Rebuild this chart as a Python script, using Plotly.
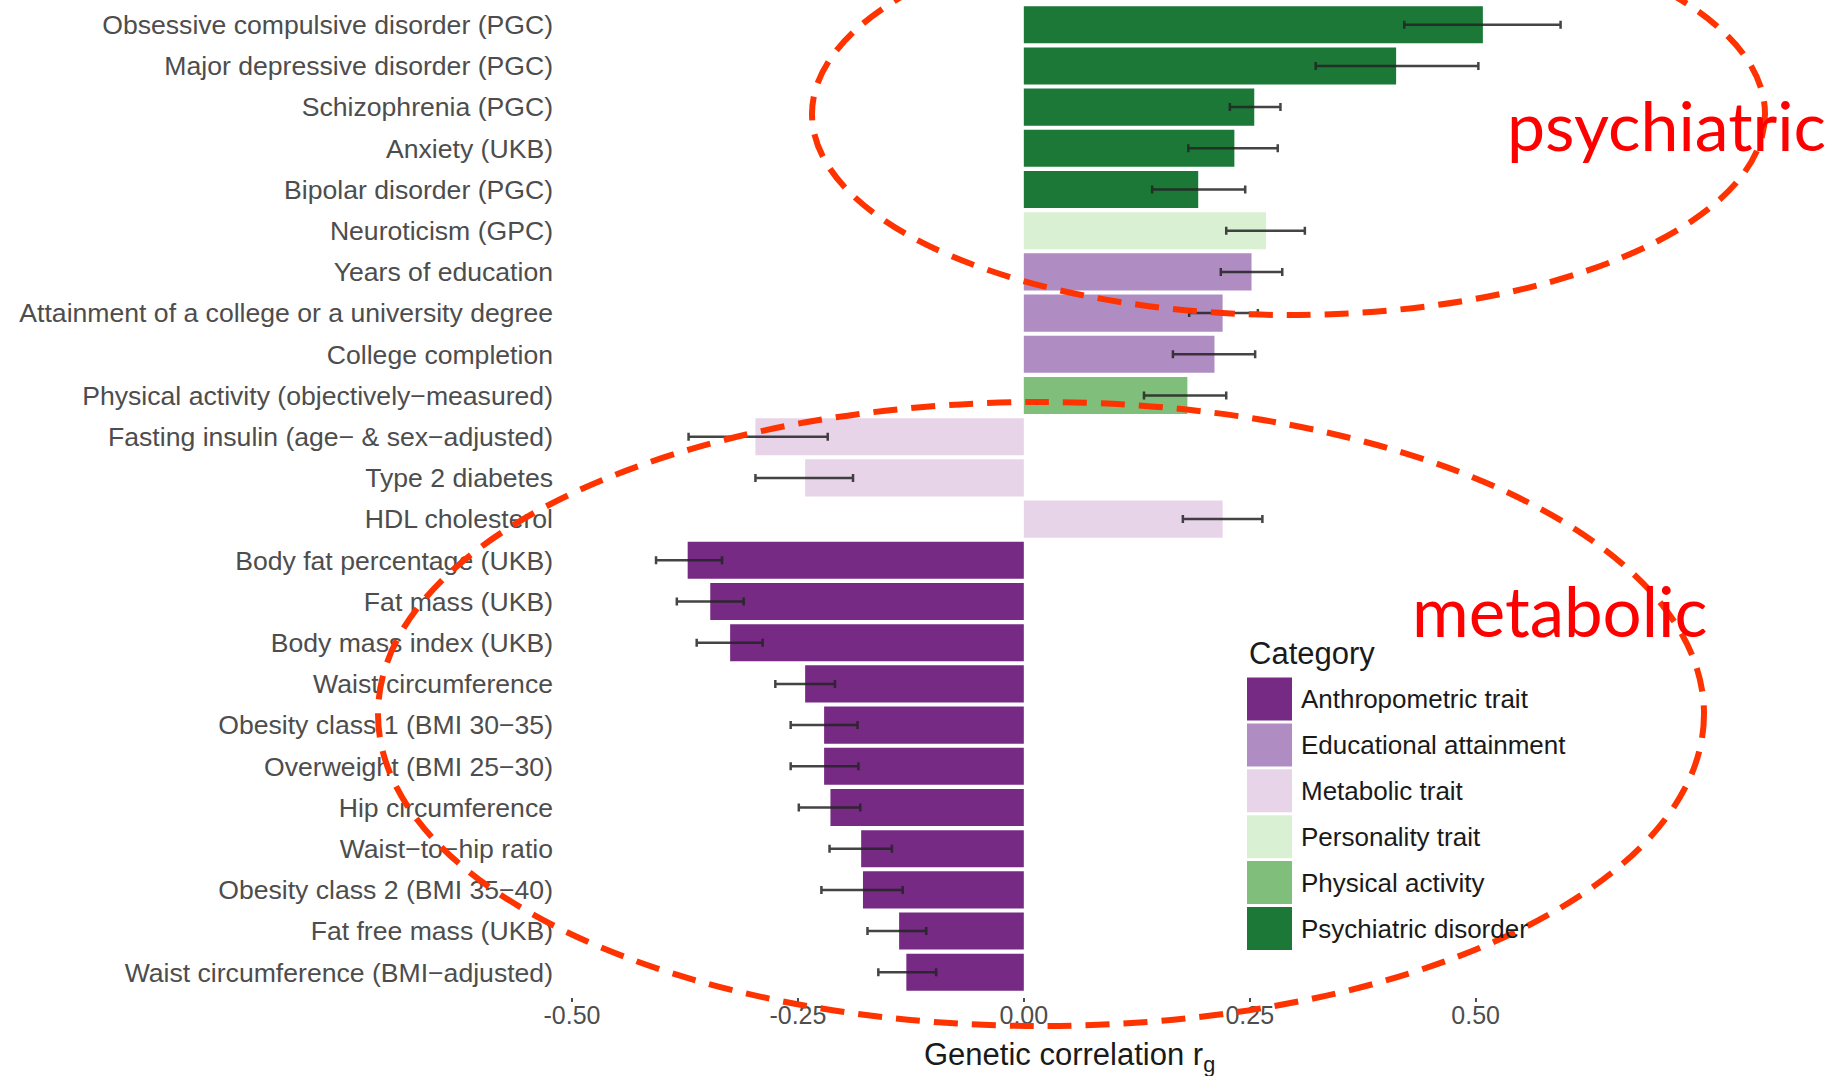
import plotly.graph_objects as go

# Traits, top to bottom
traits = [
    "Obsessive compulsive disorder (PGC)",
    "Major depressive disorder (PGC)",
    "Schizophrenia (PGC)",
    "Anxiety (UKB)",
    "Bipolar disorder (PGC)",
    "Neuroticism (GPC)",
    "Years of education",
    "Attainment of a college or a university degree",
    "College completion",
    "Physical activity (objectively\u2212measured)",
    "Fasting insulin (age\u2212 & sex\u2212adjusted)",
    "Type 2 diabetes",
    "HDL cholesterol",
    "Body fat percentage (UKB)",
    "Fat mass (UKB)",
    "Body mass index (UKB)",
    "Waist circumference",
    "Obesity class 1 (BMI 30\u221235)",
    "Overweight (BMI 25\u221230)",
    "Hip circumference",
    "Waist\u2212to\u2212hip ratio",
    "Obesity class 2 (BMI 35\u221240)",
    "Fat free mass (UKB)",
    "Waist circumference (BMI\u2212adjusted)",
]

categories = [
    "Psychiatric disorder", "Psychiatric disorder", "Psychiatric disorder",
    "Psychiatric disorder", "Psychiatric disorder", "Personality trait",
    "Educational attainment", "Educational attainment", "Educational attainment",
    "Physical activity", "Metabolic trait", "Metabolic trait", "Metabolic trait",
    "Anthropometric trait", "Anthropometric trait", "Anthropometric trait",
    "Anthropometric trait", "Anthropometric trait", "Anthropometric trait",
    "Anthropometric trait", "Anthropometric trait", "Anthropometric trait",
    "Anthropometric trait", "Anthropometric trait",
]

# Genetic correlation rg and 95% CI bounds
rg = [0.508, 0.412, 0.255, 0.233, 0.193, 0.268, 0.252, 0.220, 0.211, 0.181,
      -0.297, -0.242, 0.220, -0.372, -0.347, -0.325, -0.242, -0.221, -0.221,
      -0.214, -0.180, -0.178, -0.138, -0.130]
ci_low = [0.421, 0.323, 0.228, 0.182, 0.142, 0.224, 0.218, 0.183, 0.165, 0.133,
          -0.371, -0.297, 0.176, -0.407, -0.384, -0.362, -0.275, -0.258, -0.258,
          -0.249, -0.215, -0.224, -0.173, -0.161]
ci_high = [0.594, 0.503, 0.284, 0.281, 0.245, 0.311, 0.286, 0.259, 0.256, 0.224,
           -0.217, -0.189, 0.264, -0.334, -0.310, -0.289, -0.209, -0.184, -0.183,
           -0.181, -0.146, -0.134, -0.108, -0.097]

legend_order = ["Anthropometric trait", "Educational attainment", "Metabolic trait",
                "Personality trait", "Physical activity", "Psychiatric disorder"]
palette = {
    "Anthropometric trait": "#762a83",
    "Educational attainment": "#af8dc3",
    "Metabolic trait": "#e7d4e8",
    "Personality trait": "#d9f0d3",
    "Physical activity": "#7fbf7b",
    "Psychiatric disorder": "#1b7837",
}

x_ticks = [-0.5, -0.25, 0.0, 0.25, 0.5]
x_tick_text = ["-0.50", "-0.25", "0.00", "0.25", "0.50"]

# Page geometry (pixels)
W, H = 1845, 1076
L, T = 572, 0
PW, PH = 994, 997


def px(x):
    return (x - L) / PW


def py(y):
    return 1 - (y - T) / PH


err_plus = [h - v for h, v in zip(ci_high, rg)]
err_minus = [v - l for v, l in zip(rg, ci_low)]

fig = go.Figure()
fig.add_trace(go.Bar(
    x=rg,
    y=traits,
    orientation="h",
    width=0.9,
    marker=dict(color=[palette[c] for c in categories], line=dict(width=0)),
    error_x=dict(type="data", symmetric=False, array=err_plus, arrayminus=err_minus,
                 color="rgba(35,35,35,0.85)", thickness=2.5, width=4),
    showlegend=False,
    hovertemplate="%{y}: %{x:.3f}<extra></extra>",
))

shapes = []
annotations = []

# Category legend drawn inside the panel
annotations.append(dict(text="Category", x=px(1247), y=py(653), xref="paper", yref="paper",
                        xanchor="left", yanchor="middle", showarrow=False,
                        font=dict(size=31, color="#1a1a1a")))
for i, cat in enumerate(legend_order):
    cy = 699 + 45.9 * i
    shapes.append(dict(type="rect", xref="paper", yref="paper",
                       x0=px(1247), x1=px(1292), y0=py(cy - 21.5), y1=py(cy + 21.5),
                       fillcolor=palette[cat], line=dict(width=0), layer="above"))
    annotations.append(dict(text=cat, x=px(1299), y=py(cy), xref="paper", yref="paper",
                            xanchor="left", yanchor="middle", showarrow=False,
                            font=dict(size=26, color="#1a1a1a")))

# Highlight ellipses with labels
red_dash = dict(color="#ff3300", width=6, dash="24px,14px")
shapes.append(dict(type="circle", xref="paper", yref="paper",
                   x0=px(812), x1=px(1765), y0=py(-87), y1=py(315),
                   line=red_dash, layer="above"))
shapes.append(dict(type="circle", xref="paper", yref="paper",
                   x0=px(378), x1=px(1704), y0=py(402), y1=py(1026),
                   line=red_dash, layer="above"))
annotations.append(dict(text="psychiatric", x=px(1505), y=py(124), xref="paper", yref="paper",
                        xanchor="left", yanchor="middle", showarrow=False,
                        font=dict(family="Lato", size=68, color="#ff0000")))
annotations.append(dict(text="metabolic", x=px(1410), y=py(610), xref="paper", yref="paper",
                        xanchor="left", yanchor="middle", showarrow=False,
                        font=dict(family="Lato", size=69, color="#ff0000")))

# Axis title
annotations.append(dict(text="Genetic correlation r<sub>g</sub>", x=0.5, y=py(1057),
                        xref="paper", yref="paper", xanchor="center", yanchor="middle",
                        showarrow=False, font=dict(size=31, color="#1a1a1a")))

fig.update_layout(
    width=W, height=H,
    margin=dict(l=L, r=W - L - PW, t=T, b=H - T - PH, pad=0),
    paper_bgcolor="white",
    plot_bgcolor="white",
    font=dict(family="Liberation Sans, Arial, sans-serif", color="#4d4d4d"),
    bargap=0.1,
    shapes=shapes,
    annotations=annotations,
    xaxis=dict(
        range=[-0.5, 0.6],
        tickvals=x_ticks,
        ticktext=x_tick_text,
        showgrid=False,
        zeroline=False,
        showline=False,
        ticks="outside",
        ticklen=4,
        tickwidth=1.5,
        tickcolor="#4d4d4d",
        ticklabelstandoff=-8,
        tickfont=dict(size=25, color="#4d4d4d"),
        fixedrange=True,
    ),
    yaxis=dict(
        type="category",
        categoryorder="array",
        categoryarray=traits,
        range=[len(traits) - 1 + 0.6, -0.6],
        showgrid=False,
        zeroline=False,
        showline=False,
        ticks="",
        ticklabelstandoff=18,
        tickfont=dict(size=26.6, color="#4d4d4d"),
        fixedrange=True,
    ),
)

fig.write_html("out.html")
